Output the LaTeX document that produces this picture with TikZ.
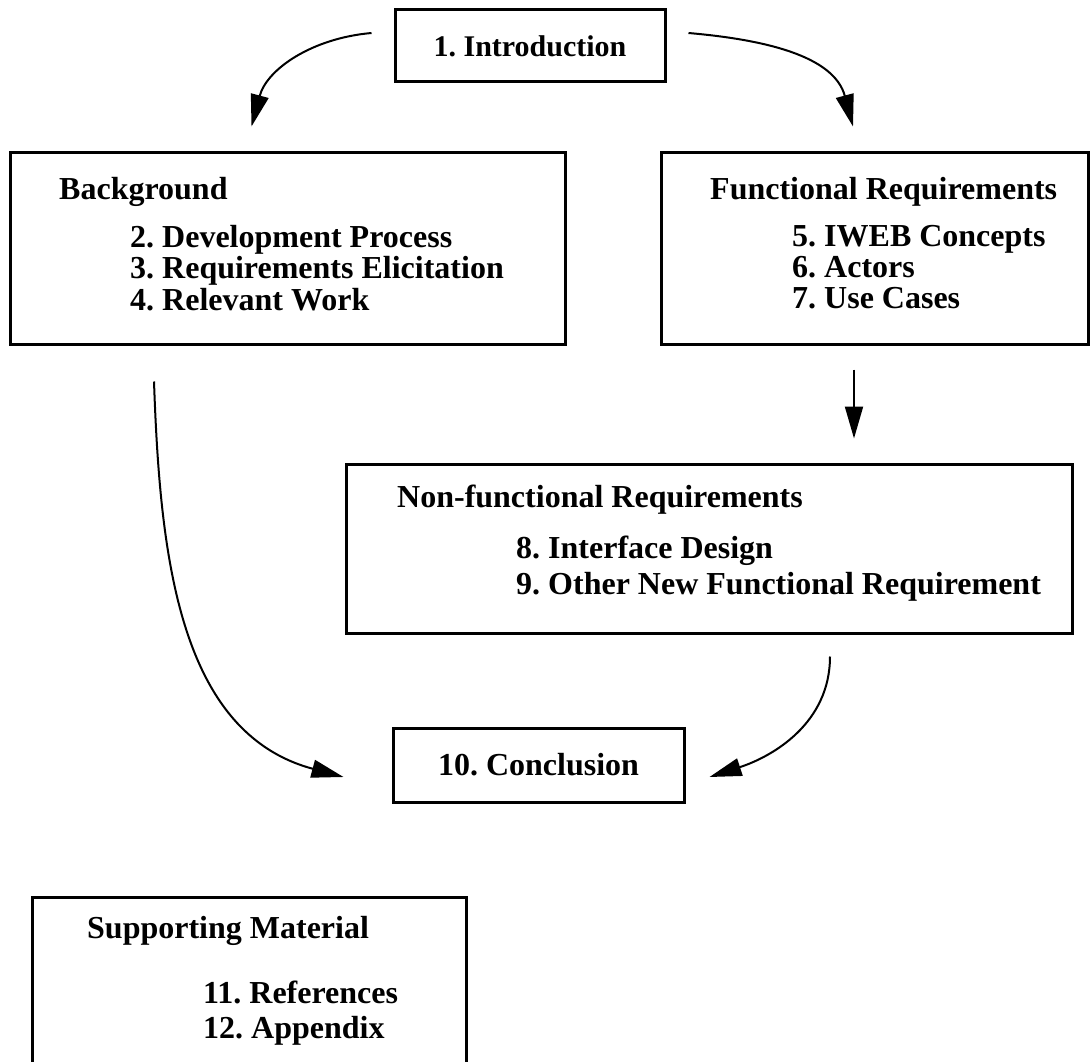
\documentclass[tikz,border=0pt]{standalone}
\usepackage{fontspec}
\setmainfont{Liberation Serif}
\frenchspacing
\usepackage{tikz}
\usetikzlibrary{
  arrows.meta,
  positioning
}
\tikzset{>={Triangle[length=32pt,width=18pt]}}
\tikzset{box/.style={draw, line width=3pt, inner sep=0pt},
  ttl/.style={anchor=base west, inner sep=0pt,
    font=\fontsize{32}{32}\selectfont\bfseries},
  conn/.style={->, line width=2pt}}

\begin{document}
\begin{tikzpicture}[x=1pt,y=1pt]
          \clip (0,0) rectangle (1090,-1062);
          % boxes
          \node[box, minimum width=270pt, minimum height=72pt,
            font=\fontsize{30}{30}\selectfont\bfseries] (intro) at (530,-46) {1. Introduction};
          \node[box, minimum width=555pt, minimum height=191pt] (bg) at (287.5,-248.5) {};
          \node[box, minimum width=427pt, minimum height=191pt] (fr) at (874.5,-248.5) {};
          \node[box, minimum width=726pt, minimum height=169pt] (nfr) at (709,-548.5) {};
          \node[box, minimum width=291pt, minimum height=74pt,
            font=\fontsize{32}{32}\selectfont\bfseries] (concl) at (538.5,-765) {10. Conclusion};
          \node[box, minimum width=434pt, minimum height=180pt] (supp) at (249,-987) {};
          % texts
          \node[ttl] (bgttl) at (59,-199) {Background};
          \foreach \txt [count=\i] in {2. Development Process, 3. Requirements Elicitation, 4. Relevant Work}
            \node[ttl] (bg\i) at (130,{-215.5-31.5*\i}) {\txt};
          \node[ttl] (frttl) at (710,-199) {Functional Requirements};
          \foreach \txt [count=\i] in {5. IWEB Concepts, 6. Actors, 7. Use Cases}
            \node[ttl] (fr\i) at (792,{-215-31*\i}) {\txt};
          \node[ttl] (nfrttl) at (397,-507) {Non-functional Requirements};
          \node[ttl] (nfr1) at (516,-558) {8. Interface Design};
          \node[ttl] (nfr2) at (516,-594) {9. Other New Functional Requirement};
          \node[ttl] (suppttl) at (87,-938) {Supporting Material};
          \node[ttl] (supp1) at (203,-1003) {11. References};
          \node[ttl] (supp2) at (203,-1038) {12. Appendix};
          % arrows
          \draw[conn] ([shift={(-22pt,13pt)}]intro.west) to[out=185,in=75] ([shift={(-36pt,25pt)}]bg.north);
          \draw[conn] ([shift={(22pt,13pt)}]intro.east) to[out=-5,in=105] ([shift={(-21.5pt,25pt)}]fr.north);
          \draw[conn] ([shift={(-20.5pt,-24pt)}]fr.south) -- ([shift={(145pt,24pt)}]nfr.north);
          \draw[conn] ([shift={(-133.5pt,-36pt)}]bg.south) to[out=-88,in=165] ([shift={(-48pt,-12pt)}]concl.west);
          \draw[conn] ([shift={(121pt,-22pt)}]nfr.south) to[out=-90,in=18] ([shift={(24pt,-12pt)}]concl.east);
        \end{tikzpicture}
\end{document}
